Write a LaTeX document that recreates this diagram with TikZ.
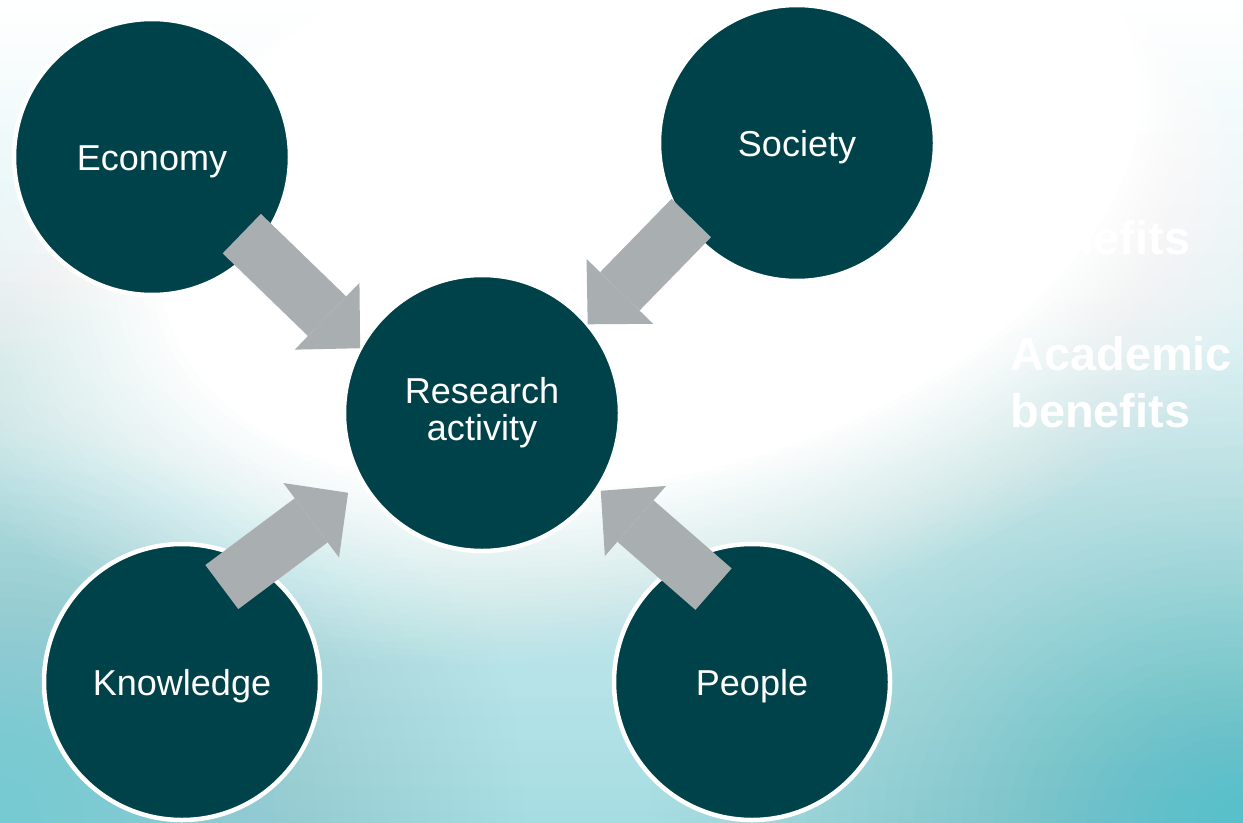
\documentclass[tikz,border=0pt]{standalone}
\usepackage{fontspec}
\setmainfont{Liberation Sans}
\usepackage{tikz}
\usepackage{xcolor}
\usetikzlibrary{arrows.meta}

\definecolor{circlefill}{HTML}{00424A}
\definecolor{arrowgray}{HTML}{A9AEB0}
\definecolor{tealbase}{HTML}{A6DDE2}
\definecolor{tealside}{HTML}{76CAD2}
\definecolor{tealdeep}{HTML}{57C0CA}

\tikzset{
  topic/.style={circle, fill=circlefill, draw=white, line width=0.09cm, minimum size=5.52cm,
    inner sep=0pt, outer sep=0pt, text=white, align=center, font=\fontsize{20.5}{21}\selectfont},
  oneline/.style={topic, text height=15.6pt, text depth=0.8pt},
  impact/.style={draw=arrowgray, line width=1.1cm,
    -{Triangle[length=0.92cm 0 0, width=1.86cm 0 0, line width=0pt 0 0]}},
  faint/.style={text=white, inner sep=0pt, align=left, font=\bfseries\fontsize{26.7}{32.5}\selectfont}
}

\begin{document}
\begin{tikzpicture}
% background
\useasboundingbox (0,0) rectangle (24.86,16.44);
\clip (0,0) rectangle (24.86,16.44);
\shade[top color=white, bottom color=tealbase] (0,0) rectangle (24.86,16.44);
\foreach \k [evaluate=\k as \s using 1-(\k-1)/40,
             evaluate=\k as \o using ((\k/40)^2-((\k-1)/40)^2)/(1-((\k-1)/40)^2)] in {1,...,40} {
  \fill[tealside, fill opacity=\o] (0,0) ellipse [x radius=11*\s cm, y radius=12*\s cm];
  \fill[tealdeep, fill opacity=\o] (24.86,0) ellipse [x radius=12.5*\s cm, y radius=10*\s cm];
}
\foreach \k [evaluate=\k as \s using 1.2-0.42*(\k-1)/29, evaluate=\k as \o using 1/(31-\k)] in {1,...,30}
  \fill[white, fill opacity=\o] (13,12.84) ellipse [x radius=12.86*\s cm, y radius=7.56*\s cm, rotate=15];

% faint side text
\node[faint, anchor=base west] (socben) at (20.2,11.36) {benefits};
\node[faint, anchor=north west] (acaben) at (20.2,9.71) {Academic\\benefits};

% topics
\node[oneline] (eco) at (3.04,13.30) {Economy};
\node[oneline] (soc) at (15.94,13.58) {Society};
\node[topic] (res) at (9.64,8.18) {Research\\activity};
\node[oneline] (know) at (3.64,2.80) {Knowledge};
\node[oneline] (peo) at (15.04,2.80) {People};

% arrows into research
\draw[impact, shorten <=-0.4cm] (eco.-41) -- (res.152);
\draw[impact, shorten <=-0.17cm] (soc.216) -- (res.40);
\draw[impact, shorten <=-0.78cm, shorten >=0.36cm] (know.59) -- (res.210);
\draw[impact, shorten <=-0.81cm, shorten >=0.08cm] (peo.120) -- (res.-33);
\end{tikzpicture}
\end{document}
